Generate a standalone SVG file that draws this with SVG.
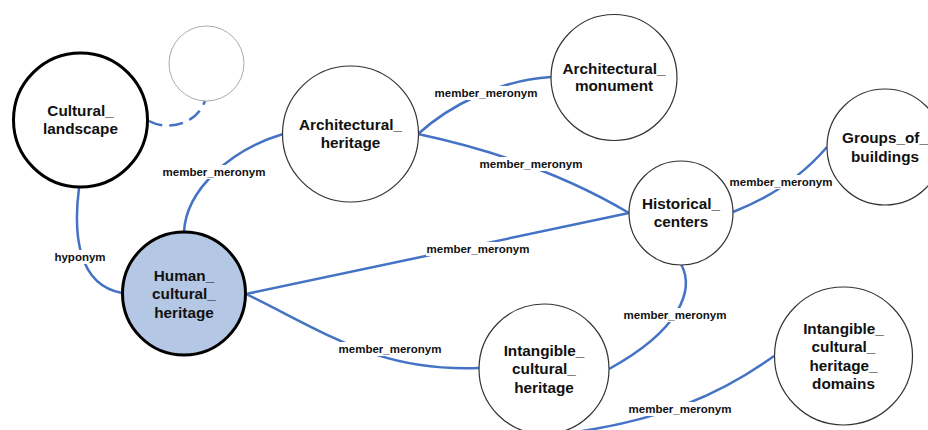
<svg xmlns="http://www.w3.org/2000/svg" width="928" height="430" viewBox="0 0 928 430">
  <style>
    .edge { fill: none; stroke: #4472c4; stroke-width: 2.5; }
    .dash { stroke-dasharray: 14 7; }
    .lbl-bg { fill: #ffffff; }
    .lbl { font-family: "Liberation Sans", Arial, sans-serif; font-weight: bold; font-size: 11.5px; fill: #111; text-anchor: middle; }
    .node { fill: #ffffff; stroke: #333; stroke-width: 1.2; }
    .node.strong { stroke: #000; stroke-width: 3; }
    .node.focus { fill: #b4c7e4; }
    .node.ghost { stroke: #aaa; stroke-width: 1; }
    .name { font-family: "Liberation Sans", Arial, sans-serif; font-weight: bold; font-size: 15.3px; fill: #111; text-anchor: middle; }
  </style>

  <rect width="928" height="430" fill="#ffffff"/>

  <!-- connectors -->
  <g id="connectors">
    <path class="edge" d="M 79 188 C 73 235 78 285 122 293"/>
    <path class="edge" d="M 184 232 C 186 190 230 150 283 134"/>
    <path class="edge" d="M 246 294 L 629 213"/>
    <path class="edge" d="M 246 294 C 330 335 380 372 479 368"/>
    <path class="edge" d="M 418 134 C 450 105 500 80 551 77"/>
    <path class="edge" d="M 418 134 Q 540 160 629 213"/>
    <path class="edge" d="M 733 212 Q 790 190 827 147"/>
    <path class="edge" d="M 681 264 C 695 290 680 330 609 369"/>
    <path class="edge" d="M 575 432 C 660 420 720 395 774 356"/>
    <path class="edge dash" d="M 149 121 C 165 130 195 127 205 101"/>

    <!-- connector labels -->
    <rect class="lbl-bg" x="53" y="250" width="54" height="14"/>
    <text class="lbl" x="80" y="261">hyponym</text>
    <rect class="lbl-bg" x="162" y="165" width="104" height="14"/>
    <text class="lbl" x="214" y="176">member_meronym</text>
    <rect class="lbl-bg" x="426" y="242" width="104" height="14"/>
    <text class="lbl" x="478" y="253">member_meronym</text>
    <rect class="lbl-bg" x="338" y="342" width="104" height="14"/>
    <text class="lbl" x="390" y="353">member_meronym</text>
    <rect class="lbl-bg" x="434" y="86" width="104" height="14"/>
    <text class="lbl" x="486" y="97">member_meronym</text>
    <rect class="lbl-bg" x="479" y="157" width="104" height="14"/>
    <text class="lbl" x="531" y="168">member_meronym</text>
    <rect class="lbl-bg" x="729" y="175" width="104" height="14"/>
    <text class="lbl" x="781" y="186">member_meronym</text>
    <rect class="lbl-bg" x="623" y="308" width="104" height="14"/>
    <text class="lbl" x="675" y="319">member_meronym</text>
    <rect class="lbl-bg" x="628" y="402" width="104" height="14"/>
    <text class="lbl" x="680" y="413">member_meronym</text>
  </g>

  <!-- nodes -->
  <g id="node-cultural-landscape">
    <circle class="node strong" cx="80.5" cy="120" r="67"/>
    <text class="name" x="80.5" y="116">Cultural_</text>
    <text class="name" x="80.5" y="134">landscape</text>
  </g>

  <g id="node-unnamed">
    <circle class="node ghost" cx="206.5" cy="63.5" r="37.5"/>
  </g>

  <g id="node-human-cultural-heritage">
    <circle class="node strong focus" cx="184" cy="293.5" r="61.5"/>
    <text class="name" x="184" y="280.5">Human_</text>
    <text class="name" x="184" y="299">cultural_</text>
    <text class="name" x="184" y="317.5">heritage</text>
  </g>

  <g id="node-architectural-heritage">
    <circle class="node" cx="350.5" cy="134" r="68"/>
    <text class="name" x="350.5" y="129.5">Architectural_</text>
    <text class="name" x="350.5" y="147.5">heritage</text>
  </g>

  <g id="node-architectural-monument">
    <circle class="node" cx="614" cy="77.5" r="63"/>
    <text class="name" x="614" y="74">Architectural_</text>
    <text class="name" x="614" y="91">monument</text>
  </g>

  <g id="node-historical-centers">
    <circle class="node" cx="681" cy="213" r="52"/>
    <text class="name" x="681" y="209">Historical_</text>
    <text class="name" x="681" y="227">centers</text>
  </g>

  <g id="node-groups-of-buildings">
    <circle class="node" cx="885" cy="147" r="58"/>
    <text class="name" x="885" y="143">Groups_of_</text>
    <text class="name" x="885" y="162">buildings</text>
  </g>

  <g id="node-intangible-cultural-heritage">
    <circle class="node" cx="544" cy="369" r="65"/>
    <text class="name" x="544" y="355.5">Intangible_</text>
    <text class="name" x="544" y="374">cultural_</text>
    <text class="name" x="544" y="392.5">heritage</text>
  </g>

  <g id="node-intangible-cultural-heritage-domains">
    <circle class="node" cx="843.5" cy="356" r="69"/>
    <text class="name" x="843.5" y="333.5">Intangible_</text>
    <text class="name" x="843.5" y="352">cultural_</text>
    <text class="name" x="843.5" y="370.5">heritage_</text>
    <text class="name" x="843.5" y="389">domains</text>
  </g>
</svg>
